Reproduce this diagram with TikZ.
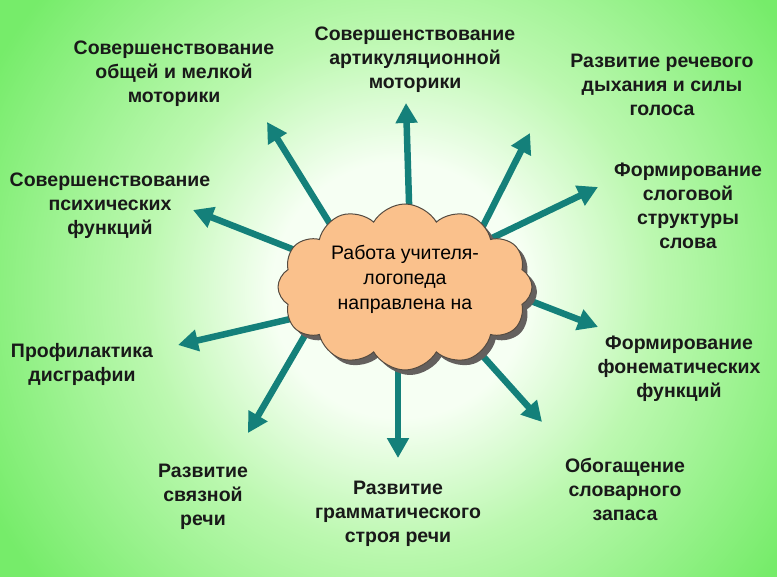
\documentclass[tikz,border=0pt]{standalone}
\usepackage{fontspec}
\setmainfont{Liberation Sans}
\usepackage{tikz}
\usetikzlibrary{arrows.meta, shapes.symbols, shadows, calc}

\definecolor{bgpale}{RGB}{246,255,243}
\definecolor{bgmid}{RGB}{188,248,176}
\definecolor{bggreen}{RGB}{118,236,106}
\definecolor{arrowteal}{RGB}{20,128,122}
\definecolor{cloudfill}{RGB}{250,193,140}
\definecolor{cloudline}{RGB}{85,75,65}
\definecolor{shadowgray}{RGB}{100,96,94}

\pgfdeclareradialshading{bgshade}{\pgfpoint{0bp}{0bp}}{%
  color(0bp)=(bgpale); color(8bp)=(bgpale); color(16bp)=(bgmid);
  color(29bp)=(bggreen); color(50bp)=(bggreen)}

\tikzset{
  topic/.style = {font=\fontsize{19.5}{24}\selectfont\bfseries,
                  align=center, inner sep=1pt, text=black!90},
  hub/.style   = {draw=cloudline, line width=1pt, fill=cloudfill,
                  cloud, cloud puffs=12, cloud puff arc=120, aspect=1.6,
                  minimum width=254pt, minimum height=166pt, inner sep=0pt,
                  align=center, font=\fontsize{19.5}{25}\selectfont,
                  drop shadow={shadow xshift=5pt, shadow yshift=-5pt,
                               fill=shadowgray, opacity=1}},
  arrow/.style = {-{Triangle[length=20pt, width=21pt]},
                  line width=6.5pt, arrowteal},
}

\begin{document}
\begin{tikzpicture}[x=1pt, y=-1pt]
  \useasboundingbox (0,0) rectangle (777,577);

  % ---------- background ---------------------------------------------
  \begin{scope}
    \clip (0,0) rectangle (777,577);
    \shade[shading=bgshade] (0,-110) rectangle (800,690);
  \end{scope}

  % ---------- arrow ends (tails hide under the cloud) ----------------
  \coordinate (s1)  at (340,240);  \coordinate (t1)  at (267,122);
  \coordinate (s2)  at (410,235);  \coordinate (t2)  at (406,103);
  \coordinate (s3)  at (475,242);  \coordinate (t3)  at (530,133);
  \coordinate (s4)  at (490,239);  \coordinate (t4)  at (598,187);
  \coordinate (s5)  at (325,262);  \coordinate (t5)  at (193,210);
  \coordinate (s6)  at (325,311);  \coordinate (t6)  at (178,345);
  \coordinate (s7)  at (315,318);  \coordinate (t7)  at (248,433);
  \coordinate (s8)  at (398,335);  \coordinate (t8)  at (398,458);
  \coordinate (s9)  at (455,325);  \coordinate (t9)  at (542,422);
  \coordinate (s10) at (500,289);  \coordinate (t10) at (598,327);

  \foreach \i in {1,...,10} {
    \draw[arrow] (s\i) -- (t\i);
  }

  % ---------- centre cloud -------------------------------------------
  \node[hub] (hub) at (405,287)
    {Работа учителя-\\логопеда\\направлена на\\[-6pt]\mbox{}};

  % ---------- directions ---------------------------------------------
  \node[topic] (motor)   at (174,74)  {Совершенствование\\общей и мелкой\\моторики};
  \node[topic] (artic)   at (415,60)  {Совершенствование\\артикуляционной\\моторики};
  \node[topic] (breath)  at (662,85)  {Развитие речевого\\дыхания и силы\\голоса};
  \node[topic] (syllab)  at (688,206) {Формирование\\слоговой\\структуры\\слова};
  \node[topic] (psych)   at (110,206) {Совершенствование\\психических\\функций};
  \node[topic] (dysgr)   at (82,364)  {Профилактика\\дисграфии};
  \node[topic] (phonem)  at (679,369) {Формирование\\фонематических\\функций};
  \node[topic] (speech)  at (203,497) {Развитие\\связной\\речи};
  \node[topic] (grammar) at (398,514) {Развитие\\грамматического\\строя речи};
  \node[topic] (vocab)   at (625,489) {Обогащение\\словарного\\запаса};
\end{tikzpicture}
\end{document}
